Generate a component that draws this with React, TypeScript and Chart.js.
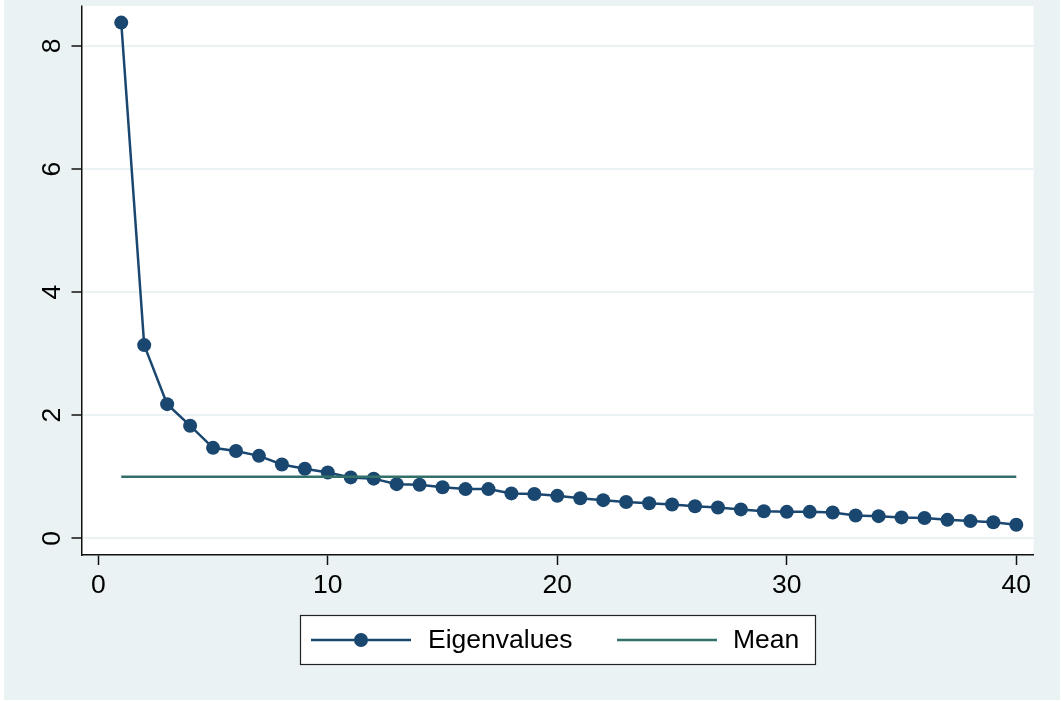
import React, { useEffect, useRef } from "react";
import { Chart, registerables } from "chart.js";

Chart.register(...registerables);

const components = [
  1, 2, 3, 4, 5, 6, 7, 8, 9, 10, 11, 12, 13, 14, 15, 16, 17, 18, 19, 20,
  21, 22, 23, 24, 25, 26, 27, 28, 29, 30, 31, 32, 33, 34, 35, 36, 37, 38, 39, 40,
];
const eigenvalues = [
  8.38, 3.14, 2.18, 1.83, 1.47, 1.42, 1.34, 1.2, 1.13, 1.07,
  0.99, 0.97, 0.88, 0.87, 0.83, 0.8, 0.8, 0.73, 0.72, 0.69,
  0.65, 0.62, 0.59, 0.57, 0.55, 0.52, 0.5, 0.47, 0.44, 0.43,
  0.43, 0.42, 0.37, 0.36, 0.34, 0.33, 0.3, 0.28, 0.26, 0.22,
];
const meanX = [1, 40];
const meanY = [1, 1];
const xTicks = [0, 10, 20, 30, 40];
const yTicks = [0, 2, 4, 6, 8];
const seriesLabels = ["Eigenvalues", "Mean"];

const NAVY = "#1a476f";
const TEAL = "#33706a";
const LIGHT = "#eaf2f3";
const FONT = "'Liberation Sans', Arial, Helvetica, sans-serif";

const W = 1061;
const H = 702;

export default function App() {
  const ref = useRef<HTMLCanvasElement | null>(null);

  useEffect(() => {
    const canvas = ref.current;
    if (!canvas) return;

    const background = {
      id: "stataBackground",
      beforeDraw(chart: any) {
        const { ctx, chartArea } = chart;
        ctx.save();
        ctx.fillStyle = "#ffffff";
        ctx.fillRect(0, 0, chart.width, chart.height);
        ctx.fillStyle = LIGHT;
        ctx.fillRect(4, 0, 1056, 700);
        ctx.fillStyle = "#ffffff";
        ctx.fillRect(
          chartArea.left,
          chartArea.top,
          chartArea.right - chartArea.left,
          chartArea.bottom - chartArea.top
        );
        ctx.restore();
      },
      afterDraw(chart: any) {
        const { ctx, chartArea } = chart;
        ctx.save();
        ctx.fillStyle = LIGHT;
        ctx.fillRect(4, 0, 1056, chartArea.top - 0.5);
        ctx.restore();
      },
    };

    const legend = {
      id: "boxLegend",
      afterDraw(chart: any) {
        const ctx = chart.ctx;
        ctx.save();
        ctx.fillStyle = "#ffffff";
        ctx.fillRect(300, 615, 515, 49);
        ctx.strokeStyle = "#222222";
        ctx.lineWidth = 1.2;
        ctx.strokeRect(300.5, 615.5, 515, 49);
        const cy = 640;
        ctx.strokeStyle = NAVY;
        ctx.lineWidth = 2.5;
        ctx.beginPath();
        ctx.moveTo(311, cy);
        ctx.lineTo(411, cy);
        ctx.stroke();
        ctx.fillStyle = NAVY;
        ctx.beginPath();
        ctx.arc(361, cy, 7, 0, Math.PI * 2);
        ctx.fill();
        ctx.strokeStyle = TEAL;
        ctx.beginPath();
        ctx.moveTo(617, cy);
        ctx.lineTo(717, cy);
        ctx.stroke();
        ctx.fillStyle = "#000000";
        ctx.font = `26.5px ${FONT}`;
        ctx.textBaseline = "middle";
        ctx.textAlign = "left";
        ctx.fillText(seriesLabels[0], 428, cy + 1);
        ctx.fillText(seriesLabels[1], 733, cy + 1);
        ctx.restore();
      },
    };

    const chart = new Chart(canvas, {
      type: "scatter",
      data: {
        datasets: [
          {
            label: seriesLabels[1],
            data: meanX.map((x, i) => ({ x, y: meanY[i] })),
            showLine: true,
            borderColor: TEAL,
            borderWidth: 2.5,
            pointRadius: 0,
            pointHoverRadius: 0,
            order: 0,
          },
          {
            label: seriesLabels[0],
            data: components.map((x, i) => ({ x, y: eigenvalues[i] })),
            showLine: true,
            borderColor: NAVY,
            borderWidth: 2.5,
            pointRadius: 7,
            pointHoverRadius: 7,
            pointBackgroundColor: NAVY,
            pointBorderColor: NAVY,
            pointBorderWidth: 0,
            tension: 0,
            order: 1,
          },
        ],
      },
      options: {
        responsive: false,
        animation: false,
        devicePixelRatio: 1,
        layout: { autoPadding: false, padding: { top: 6, right: 27.5, left: 0, bottom: 0 } },
        plugins: {
          legend: { display: false },
          tooltip: { enabled: false },
        },
        scales: {
          x: {
            type: "linear",
            min: -0.732,
            max: 40.75,
            afterFit: (s: any) => {
              s.height = 147;
              s.paddingLeft = 0;
              s.paddingRight = 0;
              s.paddingTop = 0;
              s.paddingBottom = 0;
            },
            afterBuildTicks: (s: any) => {
              s.ticks = xTicks.map((v) => ({ value: v }));
            },
            border: { display: true, color: "#111111", width: 1.5 },
            grid: {
              display: true,
              drawOnChartArea: false,
              drawTicks: true,
              tickLength: 10,
              tickColor: "#111111",
              tickWidth: 1.5,
            },
            ticks: {
              color: "#000000",
              font: { family: FONT, size: 26.5 },
              padding: 5,
              maxRotation: 0,
              minRotation: 0,
            },
          },
          y: {
            type: "linear",
            min: -0.271,
            max: 8.65,
            afterFit: (s: any) => {
              s.width = 81.5;
              s.paddingLeft = 0;
              s.paddingRight = 0;
              s.paddingTop = 0;
              s.paddingBottom = 0;
            },
            afterBuildTicks: (s: any) => {
              s.ticks = yTicks.map((v) => ({ value: v }));
            },
            border: { display: true, color: "#111111", width: 1.5 },
            grid: {
              display: true,
              drawOnChartArea: true,
              color: LIGHT,
              lineWidth: 2,
              drawTicks: true,
              tickLength: 10,
              tickColor: "#111111",
              tickWidth: 1.5,
            },
            ticks: {
              color: "#000000",
              font: { family: FONT, size: 26.5 },
              padding: 11,
              minRotation: 90,
              maxRotation: 90,
              crossAlign: "center",
            },
          },
        },
      },
      plugins: [background, legend],
    } as any);

    return () => chart.destroy();
  }, []);

  return (
    <div style={{ position: "absolute", left: 0, top: 0, width: W, height: H }}>
      <canvas ref={ref} width={W} height={H} style={{ display: "block", width: W, height: H }} />
    </div>
  );
}
